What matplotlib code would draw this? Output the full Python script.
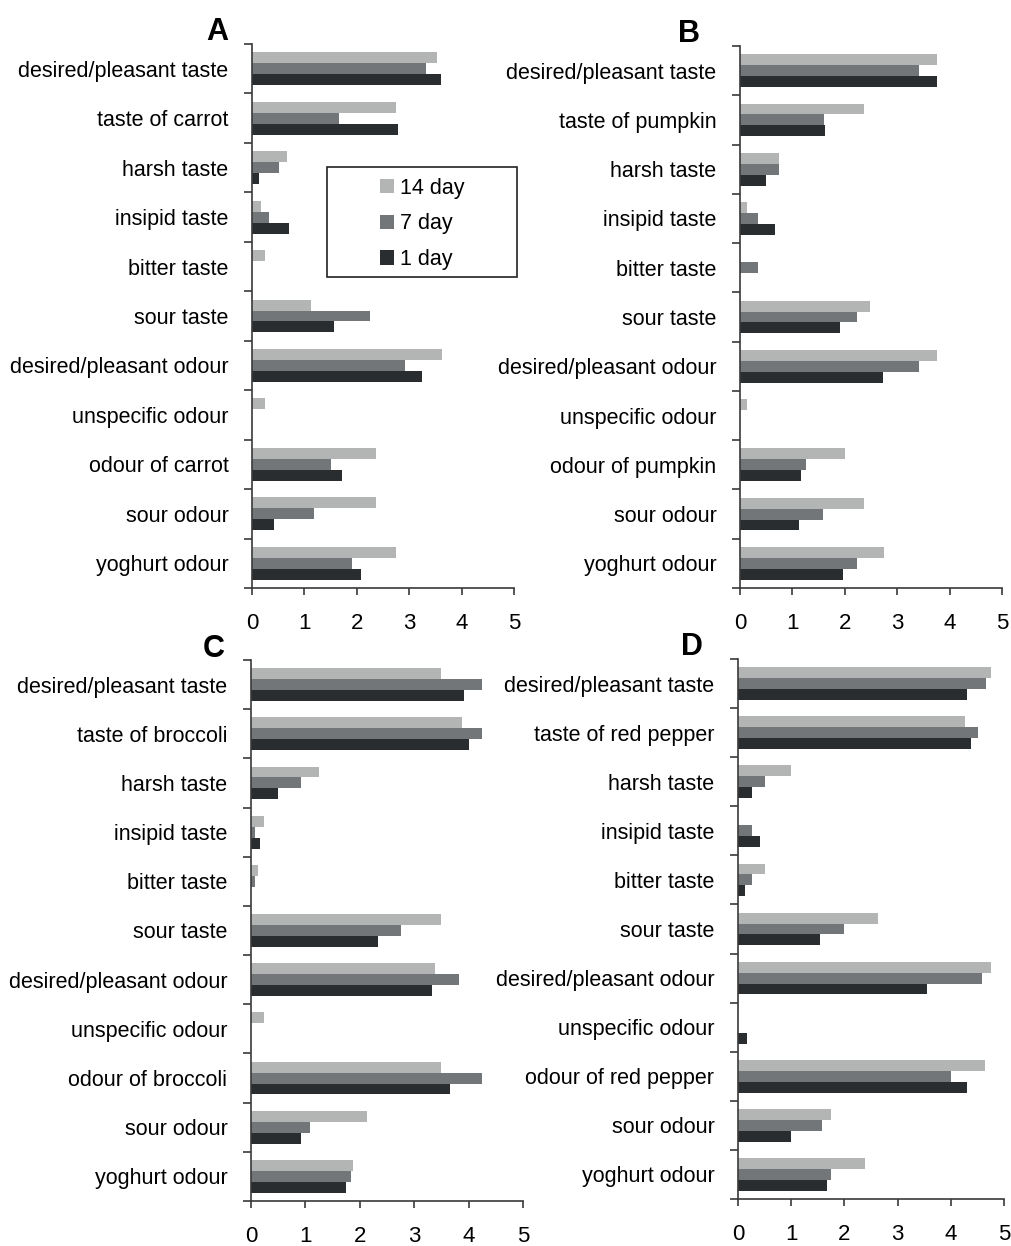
import numpy as np
import matplotlib
matplotlib.use("Agg")
import matplotlib.pyplot as plt
from matplotlib.patches import Rectangle, Patch

plt.rcParams['font.family'] = ['Liberation Sans', 'DejaVu Sans']

# categories, top to bottom
cats_A = ['desired/pleasant taste', 'taste of carrot', 'harsh taste', 'insipid taste',
          'bitter taste', 'sour taste', 'desired/pleasant odour', 'unspecific odour',
          'odour of carrot', 'sour odour', 'yoghurt odour']
cats_B = ['desired/pleasant taste', 'taste of pumpkin', 'harsh taste', 'insipid taste',
          'bitter taste', 'sour taste', 'desired/pleasant odour', 'unspecific odour',
          'odour of pumpkin', 'sour odour', 'yoghurt odour']
cats_C = ['desired/pleasant taste', 'taste of broccoli', 'harsh taste', 'insipid taste',
          'bitter taste', 'sour taste', 'desired/pleasant odour', 'unspecific odour',
          'odour of broccoli', 'sour odour', 'yoghurt odour']
cats_D = ['desired/pleasant taste', 'taste of red pepper', 'harsh taste', 'insipid taste',
          'bitter taste', 'sour taste', 'desired/pleasant odour', 'unspecific odour',
          'odour of red pepper', 'sour odour', 'yoghurt odour']

series_names = ['14 day', '7 day', '1 day']

# panel A (carrot)
A_14 = [3.54, 2.74, 0.67, 0.17, 0.25, 1.13, 3.62, 0.25, 2.37, 2.37, 2.74]
A_7 = [3.32, 1.66, 0.51, 0.33, 0.0, 2.25, 2.92, 0.0, 1.50, 1.18, 1.91]
A_1 = [3.60, 2.79, 0.13, 0.71, 0.0, 1.57, 3.25, 0.0, 1.71, 0.42, 2.08]

# panel B (pumpkin)
B_14 = [3.75, 2.37, 0.75, 0.13, 0.0, 2.49, 3.75, 0.13, 2.00, 2.37, 2.74]
B_7 = [3.42, 1.61, 0.75, 0.34, 0.34, 2.24, 3.42, 0.0, 1.25, 1.58, 2.24]
B_1 = [3.75, 1.62, 0.50, 0.67, 0.0, 1.91, 2.72, 0.0, 1.16, 1.12, 1.96]

# panel C (broccoli)
C_14 = [3.50, 3.88, 1.25, 0.24, 0.13, 3.50, 3.38, 0.24, 3.50, 2.13, 1.88]
C_7 = [4.25, 4.25, 0.92, 0.08, 0.08, 2.75, 3.83, 0.0, 4.25, 1.09, 1.84]
C_1 = [3.91, 4.00, 0.50, 0.17, 0.0, 2.34, 3.33, 0.0, 3.66, 0.92, 1.75]

# panel D (red pepper)
D_14 = [4.76, 4.26, 1.00, 0.0, 0.50, 2.64, 4.76, 0.0, 4.64, 1.75, 2.38]
D_7 = [4.67, 4.52, 0.50, 0.26, 0.26, 2.00, 4.58, 0.0, 4.00, 1.58, 1.75]
D_1 = [4.30, 4.38, 0.26, 0.42, 0.13, 1.55, 3.55, 0.17, 4.30, 1.00, 1.67]

colors = ['#b3b5b5', '#727678', '#2a2d30']
axis_col = '#3a3a3a'

W, H = 1011, 1246
fig = plt.figure(figsize=(W / 100, H / 100), dpi=100)


def px_axes(x0, x1, y0, y1):
    return fig.add_axes([x0 / W, 1 - y1 / H, (x1 - x0) / W, (y1 - y0) / H])


def panel(ax, cats, vals):
    n = len(cats)
    y = np.arange(n)
    h = 0.222
    for k, (v, c) in enumerate(zip(vals, colors)):
        ax.barh(y + (k - 1) * h, v, height=h, color=c, edgecolor='none',
                label=series_names[k])
    ax.set_xlim(0, 5)
    ax.set_ylim(n - 0.5, -0.5)
    ax.set_xticks(range(6))
    ax.set_yticks(y)
    ax.set_yticklabels(cats)
    ax.set_yticks(np.arange(n + 1) - 0.5, minor=True)
    ax.tick_params(axis='y', which='major', length=0, pad=17, labelsize=15.5)
    ax.tick_params(axis='y', which='minor', length=6, width=1.2, color=axis_col, direction='out')
    ax.tick_params(axis='x', length=5, width=1.2, color=axis_col, direction='out',
                   pad=13, labelsize=16)
    for s in ['top', 'right']:
        ax.spines[s].set_visible(False)
    for s in ['left', 'bottom']:
        ax.spines[s].set_color(axis_col)
        ax.spines[s].set_linewidth(1.2)


axA = px_axes(252, 514, 44, 588)
axB = px_axes(740, 1002, 46, 588)
axC = px_axes(251, 523, 660, 1201)
axD = px_axes(738, 1004, 659, 1199)

panel(axA, cats_A, [A_14, A_7, A_1])
panel(axB, cats_B, [B_14, B_7, B_1])
panel(axC, cats_C, [C_14, C_7, C_1])
panel(axD, cats_D, [D_14, D_7, D_1])

# panel letters
for txt, xr, yb in [('A', 228, 40), ('B', 700, 42), ('C', 225, 657), ('D', 703, 655)]:
    fig.text(xr / W, 1 - yb / H, txt, ha='right', va='baseline',
             fontsize=22, fontweight='bold')

# legend box in panel A
bx0, bx1, by0, by1 = 327, 517, 167, 277
fig.add_artist(Rectangle((bx0 / W, 1 - by1 / H), (bx1 - bx0) / W, (by1 - by0) / H,
                         transform=fig.transFigure, facecolor='white',
                         edgecolor='#222222', linewidth=1.2, zorder=5))
handles = [Patch(facecolor=c, edgecolor='none', label=l) for c, l in zip(colors, series_names)]
leg = fig.legend(handles=handles, loc='center',
                 bbox_to_anchor=((bx0 + bx1) / 2 / W, 1 - ((by0 + by1) / 2 + 2) / H),
                 frameon=False, fontsize=15.5, handlelength=0.65, handleheight=0.65,
                 handletextpad=0.3, labelspacing=0.68)
leg.set_zorder(6)

fig.savefig('out.png', dpi=100)
